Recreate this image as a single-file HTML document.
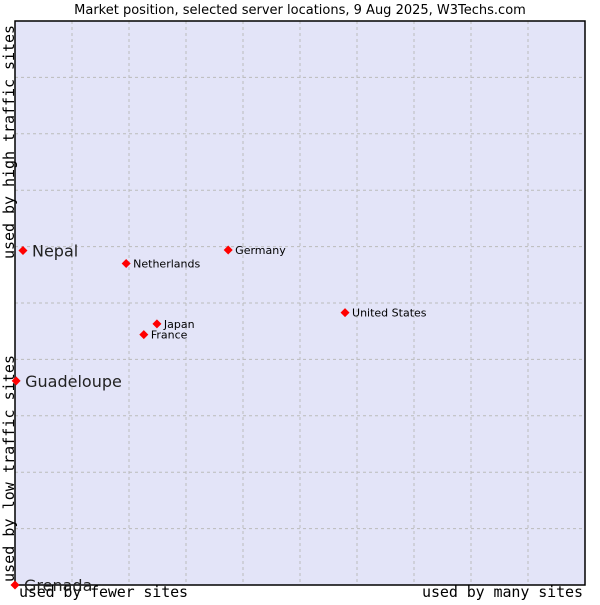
<!DOCTYPE html>
<html><head><meta charset="utf-8"><style>
body{margin:0;background:#fff;}
svg text{font-family:"DejaVu Sans","Liberation Sans",sans-serif;}
</style></head><body>
<svg id="c" width="600" height="600" xmlns="http://www.w3.org/2000/svg">
<text x="300" y="14" text-anchor="middle" font-size="13" fill="#000">Market position, selected server locations, 9 Aug 2025, W3Techs.com</text>
<rect x="15" y="21" width="570" height="564" fill="#e3e4f8"/>
<g id="grid"></g>
<rect x="15" y="21" width="570" height="564" fill="none" stroke="#000" stroke-width="1.5"/>
<text x="19" y="597" textLength="169" font-size="15" style="font-family:'DejaVu Sans Mono',monospace">used by fewer sites</text>
<text x="422" y="597" textLength="161" font-size="15" style="font-family:'DejaVu Sans Mono',monospace">used by many sites</text>
<text transform="translate(14,582) rotate(-90)" textLength="227" font-size="15" style="font-family:'DejaVu Sans Mono',monospace">used by low traffic sites</text>
<text transform="translate(14,259) rotate(-90)" textLength="234" font-size="15" style="font-family:'DejaVu Sans Mono',monospace">used by high traffic sites</text>
<g id="pts"></g>
</svg>
<script>
const names=["Nepal","Guadeloupe","Grenada","Netherlands","Germany","United States","Japan","France"];
const xs=[1.4,0.2,0,19.5,37.4,57.9,24.9,22.6];
const ys=[59.3,36.2,0,57.0,59.4,48.3,46.3,44.4];
const big=[true,true,true,false,false,false,false,false];
const L=15,R=585,T=21,B=585;
const sx=v=>L+v/100*(R-L), sy=v=>B-v/100*(B-T);
const ns="http://www.w3.org/2000/svg";
const g=document.getElementById('grid');
for(let i=1;i<10;i++){
 const a=document.createElementNS(ns,'line');
 
 
 a.setAttribute('x1',sx(i*10));a.setAttribute('x2',sx(i*10));a.setAttribute('y1',T);a.setAttribute('y2',B);
 a.setAttribute('stroke','#bbbbbb');a.setAttribute('stroke-dasharray','3,3');g.appendChild(a);
 const b=document.createElementNS(ns,'line');
 
 
 b.setAttribute('y1',sy(i*10));b.setAttribute('y2',sy(i*10));b.setAttribute('x1',L);b.setAttribute('x2',R);
 b.setAttribute('stroke','#bbbbbb');b.setAttribute('stroke-dasharray','3,3');g.appendChild(b);
}
const p=document.getElementById('pts');
names.forEach((n,i)=>{
 const x=sx(xs[i]),y=sy(ys[i]);
 const d=document.createElementNS(ns,'path');
 
 
 d.setAttribute('d',`M${x} ${y-4.5}L${x+4.5} ${y}L${x} ${y+4.5}L${x-4.5} ${y}Z`);
 d.setAttribute('fill','#f00');p.appendChild(d);
 const t=document.createElementNS(ns,'text');
 
 
 t.setAttribute('x',x+(big[i]?9:7));t.setAttribute('y',y+(big[i]?6:4));
 t.setAttribute('font-size',big[i]?16:11);t.setAttribute('fill',big[i]?'#222':'#000');
 t.textContent=n;p.appendChild(t);
});
</script>
</body></html>
